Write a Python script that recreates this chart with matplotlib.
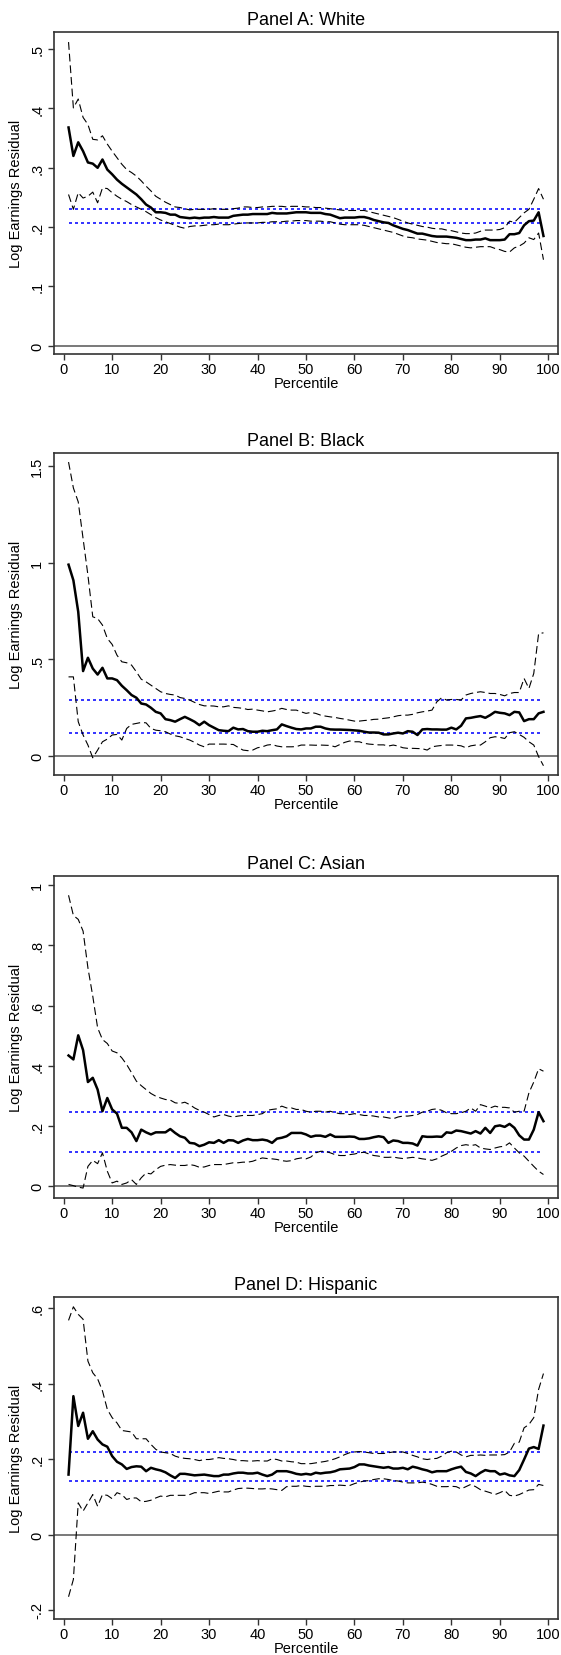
import numpy as np
import matplotlib
matplotlib.use("Agg")
import matplotlib.pyplot as plt

plt.rcParams["font.family"] = ["Liberation Sans", "DejaVu Sans"]

pct = list(range(1, 100))

# Panel A: White
white_est = [.368, .320, .343, .328, .309, .307, .300, .314, .297, .289,
             .280, .273, .267, .261, .255, .247, .238, .233, .225, .225,
             .224, .221, .221, .217, .216, .215, .216, .215, .216, .216,
             .217, .216, .216, .216, .219, .220, .221, .221, .222, .222,
             .222, .222, .224, .223, .223, .223, .224, .225, .225, .225,
             .224, .224, .224, .222, .221, .218, .215, .216, .216, .216,
             .217, .217, .215, .212, .210, .208, .207, .203, .200, .197,
             .195, .192, .189, .189, .187, .185, .184, .184, .184, .183,
             .182, .180, .178, .178, .179, .179, .181, .178, .178, .178,
             .179, .188, .188, .190, .203, .210, .211, .225, .185]
white_hi = [.512, .401, .416, .385, .373, .348, .347, .354, .340, .328,
            .317, .306, .297, .292, .286, .278, .269, .261, .252, .247,
            .242, .238, .234, .233, .231, .229, .230, .230, .230, .230,
            .231, .230, .230, .230, .231, .232, .234, .234, .233, .233,
            .234, .234, .235, .235, .235, .234, .235, .235, .235, .234,
            .234, .233, .233, .232, .231, .230, .229, .228, .228, .228,
            .228, .228, .226, .224, .222, .220, .218, .216, .213, .210,
            .207, .205, .203, .201, .200, .198, .197, .197, .195, .194,
            .192, .190, .189, .189, .190, .193, .195, .195, .195, .196,
            .199, .210, .208, .216, .224, .230, .247, .265, .247]
white_lo = [.255, .230, .258, .249, .252, .259, .241, .266, .265, .258,
            .252, .247, .243, .238, .234, .230, .226, .221, .216, .212,
            .209, .206, .203, .200, .198, .201, .202, .202, .203, .204,
            .204, .205, .204, .204, .205, .206, .207, .207, .207, .207,
            .208, .208, .209, .209, .209, .210, .210, .211, .211, .211,
            .210, .210, .210, .209, .209, .207, .205, .204, .204, .204,
            .204, .203, .201, .199, .197, .195, .193, .191, .188, .185,
            .183, .182, .180, .179, .178, .176, .174, .173, .172, .172,
            .170, .168, .166, .165, .166, .167, .167, .167, .164, .162,
            .159, .158, .165, .168, .173, .182, .179, .190, .145]
white_ref = [0.230, 0.207]

# Panel B: Black
black_est = [.991, .910, .747, .440, .509, .453, .422, .457, .402, .402,
             .393, .364, .341, .316, .302, .272, .267, .250, .229, .221,
             .191, .186, .178, .191, .203, .191, .178, .160, .178, .160,
             .147, .134, .131, .129, .147, .138, .140, .129, .126, .126,
             .131, .129, .134, .138, .164, .155, .147, .140, .138, .143,
             .143, .152, .152, .143, .138, .137, .137, .136, .135, .133,
             .131, .126, .122, .122, .121, .112, .112, .117, .121, .117,
             .129, .126, .109, .138, .140, .138, .138, .137, .137, .147,
             .138, .157, .195, .198, .203, .207, .198, .212, .229, .224,
             .221, .212, .229, .226, .181, .191, .191, .221, .229]
black_hi = [1.522, 1.388, 1.316, 1.126, .936, .721, .712, .678, .609, .578,
            .522, .488, .483, .471, .436, .398, .384, .367, .350, .333,
            .324, .319, .316, .303, .298, .290, .278, .267, .260, .260,
            .259, .255, .255, .260, .252, .250, .247, .241, .243, .238,
            .234, .229, .233, .238, .247, .241, .238, .238, .229, .221,
            .226, .221, .212, .207, .203, .200, .195, .191, .186, .181,
            .181, .184, .186, .190, .191, .195, .198, .203, .209, .212,
            .212, .216, .224, .229, .233, .238, .281, .302, .290, .293,
            .293, .290, .316, .324, .329, .333, .329, .324, .324, .319,
            .312, .324, .329, .329, .402, .350, .428, .634, .638]
black_lo = [.410, .410, .178, .109, .057, -.009, .031, .074, .088, .109,
            .112, .083, .143, .164, .169, .174, .172, .143, .134, .131,
            .126, .114, .105, .100, .091, .083, .071, .057, .048, .062,
            .062, .062, .062, .061, .060, .045, .031, .028, .031, .043,
            .048, .057, .060, .052, .048, .048, .048, .049, .057, .057,
            .057, .056, .057, .056, .055, .048, .060, .071, .078, .074,
            .074, .066, .062, .060, .058, .058, .052, .057, .052, .043,
            .040, .040, .039, .038, .031, .048, .052, .055, .057, .057,
            .056, .053, .043, .053, .057, .057, .074, .095, .100, .097,
            .091, .121, .126, .112, .097, .074, .057, -.003, -.050]
black_ref = [0.290, 0.122]

# Panel C: Asian
asian_est = [.434, .421, .501, .452, .346, .360, .321, .249, .293, .255,
             .241, .194, .194, .179, .150, .188, .179, .172, .179, .179,
             .179, .190, .177, .166, .161, .144, .142, .133, .138, .146,
             .144, .153, .144, .153, .152, .144, .152, .157, .153, .153,
             .155, .152, .144, .158, .161, .166, .177, .177, .177, .172,
             .164, .168, .168, .164, .172, .164, .164, .164, .165, .164,
             .157, .157, .159, .163, .166, .163, .144, .152, .150, .144,
             .144, .142, .135, .166, .164, .164, .165, .164, .179, .177,
             .185, .183, .179, .175, .183, .175, .194, .177, .199, .202,
             .197, .207, .194, .169, .155, .155, .188, .246, .216]
asian_hi = [.966, .899, .886, .847, .725, .631, .526, .487, .474, .449,
            .443, .426, .404, .377, .349, .334, .321, .308, .299, .293,
            .288, .286, .277, .275, .279, .271, .260, .252, .246, .238,
            .230, .235, .238, .233, .230, .233, .235, .235, .235, .238,
            .241, .252, .255, .257, .266, .260, .260, .255, .255, .249,
            .246, .249, .249, .246, .249, .244, .241, .241, .238, .241,
            .238, .235, .235, .233, .230, .230, .227, .224, .230, .233,
            .233, .235, .238, .246, .249, .255, .257, .252, .244, .241,
            .241, .244, .249, .260, .249, .271, .266, .260, .266, .262,
            .262, .260, .246, .249, .249, .310, .346, .390, .382]
asian_lo = [.006, .002, -.003, -.006, .066, .086, .075, .111, .050, .011,
            .017, .006, .011, .022, .006, .028, .044, .041, .055, .066,
            .070, .072, .070, .069, .069, .072, .069, .063, .064, .069,
            .072, .072, .072, .075, .078, .078, .080, .080, .083, .089,
            .094, .092, .091, .089, .085, .083, .085, .091, .094, .091,
            .097, .111, .116, .116, .111, .105, .102, .102, .105, .107,
            .111, .113, .107, .102, .100, .096, .096, .097, .094, .092,
            .094, .096, .094, .091, .089, .086, .091, .100, .107, .116,
            .127, .135, .138, .135, .138, .127, .124, .122, .127, .131,
            .133, .144, .127, .111, .100, .083, .066, .050, .039]
asian_ref = [0.246, 0.113]

# Panel D: Hispanic
hisp_est = [.159, .367, .288, .323, .254, .274, .252, .239, .233, .208,
            .193, .186, .174, .179, .181, .180, .168, .177, .173, .170,
            .165, .157, .150, .161, .161, .159, .157, .158, .159, .157,
            .155, .155, .159, .159, .162, .164, .164, .162, .162, .164,
            .159, .155, .159, .168, .168, .168, .165, .161, .159, .161,
            .159, .164, .162, .164, .165, .168, .173, .174, .175, .179,
            .186, .186, .183, .181, .179, .177, .179, .175, .175, .177,
            .173, .180, .177, .173, .170, .165, .168, .168, .168, .173,
            .177, .180, .166, .162, .155, .164, .171, .168, .168, .159,
            .162, .157, .155, .171, .199, .228, .232, .227, .289]
hisp_hi = [.568, .604, .584, .571, .460, .429, .413, .381, .332, .310,
           .296, .276, .274, .272, .254, .254, .254, .239, .226, .219,
           .217, .215, .208, .204, .202, .201, .199, .196, .199, .199,
           .201, .204, .202, .201, .199, .196, .196, .195, .195, .196,
           .195, .195, .201, .199, .195, .195, .193, .192, .188, .188,
           .188, .190, .192, .194, .197, .201, .206, .212, .217, .219,
           .220, .219, .217, .215, .215, .215, .217, .219, .219, .219,
           .215, .210, .206, .201, .199, .201, .202, .208, .217, .221,
           .219, .211, .206, .210, .210, .211, .210, .211, .211, .211,
           .212, .219, .242, .245, .283, .292, .310, .385, .427]
hisp_lo = [-.165, -.119, .084, .062, .084, .106, .075, .106, .104, .095,
           .111, .106, .093, .097, .097, .087, .088, .091, .097, .102,
           .100, .104, .104, .104, .104, .106, .111, .111, .111, .109,
           .112, .115, .113, .113, .118, .122, .123, .123, .122, .121,
           .121, .122, .121, .119, .117, .127, .128, .128, .130, .128,
           .127, .128, .128, .128, .130, .130, .131, .130, .130, .135,
           .139, .142, .143, .146, .148, .148, .146, .143, .142, .139,
           .137, .137, .137, .139, .137, .133, .128, .127, .127, .128,
           .127, .121, .127, .133, .127, .119, .115, .111, .106, .111,
           .117, .104, .102, .106, .112, .118, .119, .133, .130]
hisp_ref = [0.218, 0.143]

panels = [
    ("Panel A: White", white_est, white_hi, white_lo, white_ref,
     (-0.014, 0.529), [0, .1, .2, .3, .4, .5], ["0", ".1", ".2", ".3", ".4", ".5"]),
    ("Panel B: Black", black_est, black_hi, black_lo, black_ref,
     (-0.098, 1.569), [0, .5, 1, 1.5], ["0", ".5", "1", "1.5"]),
    ("Panel C: Asian", asian_est, asian_hi, asian_lo, asian_ref,
     (-0.039, 1.030), [0, .2, .4, .6, .8, 1], ["0", ".2", ".4", ".6", ".8", "1"]),
    ("Panel D: Hispanic", hisp_est, hisp_hi, hisp_lo, hisp_ref,
     (-0.224, 0.630), [-.2, 0, .2, .4, .6], ["-.2", "0", ".2", ".4", ".6"]),
]

W, H = 561, 1656
tops = [33, 454, 877, 1298]
ax_h = 322

fig = plt.figure(figsize=(W / 100, H / 100), dpi=100)
fig.patch.set_facecolor("white")

for (title, est, hi, lo, ref, ylim, yt, ytl), top in zip(panels, tops):
    ax = fig.add_axes([54 / W, 1 - (top + ax_h) / H, 504 / W, ax_h / H])
    ax.axhline(0, color="#555555", linewidth=1.1, zorder=1)
    for r in ref:
        ax.plot([pct[0], pct[-1]], [r, r], color="#1010ff", linewidth=1.2,
                linestyle=(0, (1.8, 1.8)), zorder=2)
    ax.plot(pct, hi, color="black", linewidth=0.8, linestyle=(0, (7, 3.5)), zorder=3)
    ax.plot(pct, lo, color="black", linewidth=0.8, linestyle=(0, (7, 3.5)), zorder=3)
    ax.plot(pct, est, color="black", linewidth=1.8, zorder=4)
    ax.set_xlim(-2, 102)
    ax.set_ylim(*ylim)
    ax.set_xticks(range(0, 101, 10))
    ax.set_yticks(yt)
    ax.set_yticklabels(ytl, rotation=90, va="center")
    ax.tick_params(axis="both", direction="out", length=4, width=1, labelsize=10.5,
                   color="#333333")
    ax.tick_params(axis="x", pad=2)
    ax.tick_params(axis="y", pad=3)
    for s in ax.spines.values():
        s.set_color("#333333")
        s.set_linewidth(1.2)
    ax.set_title(title, fontsize=13, pad=6)
    ax.set_xlabel("Percentile", fontsize=10.5, labelpad=0)
    ax.set_ylabel("Log Earnings Residual", fontsize=10.5, labelpad=5)

fig.savefig("out.png", dpi=100)
